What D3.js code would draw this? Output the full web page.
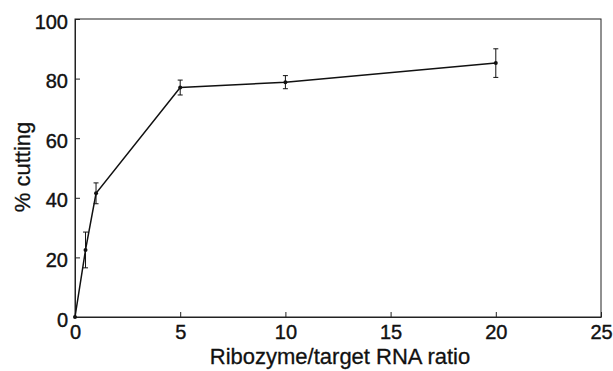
<!DOCTYPE html>
<html>
<head>
<meta charset="utf-8">
<script src="https://cdn.jsdelivr.net/npm/d3@7"></script>
<style>
  body { margin: 0; background: #fff; }
  text { font-family: "Liberation Sans", Arial, sans-serif; fill: #111; }
</style>
</head>
<body>
<div id="chart"></div>
<script>
// ratio of ribozyme to target RNA, and the % cutting
var ratios = [0, 0.5, 1, 5, 10, 20];
var cutting = [0, 22.5, 41.5, 77, 78.8, 85.2];
var errors = [0, 6, 3.5, 2.5, 2.2, 4.8];
var xTicks = [0, 5, 10, 15, 20, 25];
var yTicks = [0, 20, 40, 60, 80, 100];

var width = 613, height = 371;
var margin = {top: 19, right: 12, bottom: 54, left: 75};

var svg = d3.select("#chart").append("svg")
    .attr("width", width)
    .attr("height", height);

var x = d3.scaleLinear().domain([0, 25]).range([margin.left, width - margin.right]);
var y = d3.scaleLinear().domain([0, 100]).range([height - margin.bottom, margin.top]);

var points = ratios.map((r, i) => ({x: r, y: cutting[i], e: errors[i]}));

// frame
svg.append("rect")
    .attr("x", x(0)).attr("y", y(100))
    .attr("width", x(25) - x(0)).attr("height", y(0) - y(100))
    .attr("fill", "none").attr("stroke", "#222").attr("stroke-width", 1);

// axes, ticks pointing inward
var xAxis = svg.append("g")
    .attr("transform", "translate(0," + y(0) + ")")
    .call(d3.axisBottom(x).tickValues(xTicks).tickSizeInner(-5).tickSizeOuter(0).tickPadding(8));
var yAxis = svg.append("g")
    .attr("transform", "translate(" + x(0) + ",0)")
    .call(d3.axisLeft(y).tickValues(yTicks).tickSizeInner(-5).tickSizeOuter(0).tickPadding(7));

[xAxis, yAxis].forEach(a => {
    a.select(".domain").attr("stroke", "#222");
    a.selectAll(".tick line").attr("stroke", "#222");
    a.selectAll(".tick text")
        .attr("font-size", 20)
        .attr("font-family", "Liberation Sans, Arial, sans-serif")
        .attr("fill", "#111")
        .attr("stroke", "#111")
        .attr("stroke-width", 0.4);
});
yAxis.selectAll(".tick text").attr("dy", "0.45em");

// error bars
var bars = svg.append("g").selectAll("g")
    .data(points.filter(d => d.e > 0))
    .enter().append("g")
    .attr("stroke", "#111").attr("stroke-width", 1);
bars.append("line")
    .attr("x1", d => x(d.x)).attr("x2", d => x(d.x))
    .attr("y1", d => y(d.y - d.e)).attr("y2", d => y(d.y + d.e));
bars.append("line")
    .attr("x1", d => x(d.x) - 2.5).attr("x2", d => x(d.x) + 2.5)
    .attr("y1", d => y(d.y + d.e)).attr("y2", d => y(d.y + d.e));
bars.append("line")
    .attr("x1", d => x(d.x) - 2.5).attr("x2", d => x(d.x) + 2.5)
    .attr("y1", d => y(d.y - d.e)).attr("y2", d => y(d.y - d.e));

// the line
var line = d3.line().x(d => x(d.x)).y(d => y(d.y));
svg.append("path")
    .datum(points)
    .attr("d", line)
    .attr("fill", "none")
    .attr("stroke", "#111")
    .attr("stroke-width", 1.5);

svg.append("g").selectAll("circle")
    .data(points)
    .enter().append("circle")
    .attr("cx", d => x(d.x)).attr("cy", d => y(d.y))
    .attr("r", 2)
    .attr("fill", "#111");

// axis titles
svg.append("text")
    .attr("x", 340)
    .attr("y", 364)
    .attr("text-anchor", "middle")
    .attr("font-size", 22)
    .attr("stroke", "#111").attr("stroke-width", 0.3)
    .text("Ribozyme/target RNA ratio");

svg.append("text")
    .attr("transform", "translate(30," + 167 + ") rotate(-90)")
    .attr("text-anchor", "middle")
    .attr("font-size", 22)
    .attr("stroke", "#111").attr("stroke-width", 0.3)
    .text("% cutting");
</script>
</body>
</html>
